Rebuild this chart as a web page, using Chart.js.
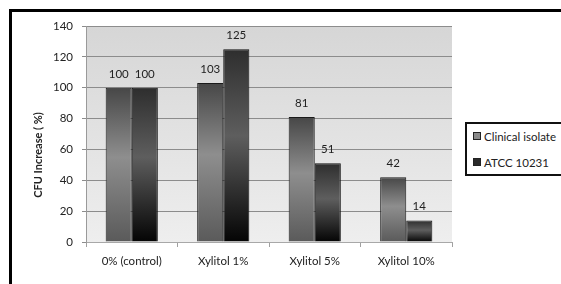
<!DOCTYPE html>
<html>
<head>
<meta charset="utf-8">
<script src="https://cdn.jsdelivr.net/npm/chart.js@4.4.1/dist/chart.umd.min.js"></script>
<style>
  body { margin: 0; background: #fff; overflow: hidden; }
  #wrap { position: relative; width: 561px; height: 284px; overflow: hidden; font-family: Lato, sans-serif; }
  #frameTop { position: absolute; left: 9px; top: 9px; width: 560px; height: 3px; background: #000; }
  #frameLeft { position: absolute; left: 9px; top: 9px; width: 3px; height: 280px; background: #000; }
  #legend {
    position: absolute; left: 465px; top: 122px; width: 110px; height: 50px;
    border: 2px solid #111; background: #fff; font-size: 11.5px; color: #222;
  }
  #legend .item { position: absolute; left: 6px; white-space: nowrap; line-height: 14px; }
  #legend .box { display: inline-block; width: 6px; height: 6px; border: 1px solid #222; margin-right: 3px; vertical-align: 1px; }
</style>
</head>
<body>
<div id="wrap">
  <canvas id="chart" width="561" height="284"></canvas>
  <div id="frameTop"></div>
  <div id="frameLeft"></div>
  <div id="legend"></div>
</div>
<script>
const categories = ["0% (control)", "Xylitol 1%", "Xylitol 5%", "Xylitol 10%"];
const clinicalIsolate = [100, 103, 81, 42];
const atcc10231 = [100, 125, 51, 14];
const seriesLabels = ["Clinical isolate", "ATCC 10231"];
const yTitle = "CFU Increase ( %)";

// vertical gradient spanning each bar, from its top to the zero line
function barGradient(stops, flat) {
  return (context) => {
    const chart = context.chart;
    if (!chart.chartArea || context.raw == null) return flat;
    const y = chart.scales.y;
    const top = y.getPixelForValue(context.raw);
    const bottom = y.getPixelForValue(0);
    if (!isFinite(top) || bottom - top < 1) return flat;
    const g = chart.ctx.createLinearGradient(0, top, 0, bottom);
    stops.forEach(([at, c]) => g.addColorStop(at, c));
    return g;
  };
}

const plotBackground = {
  id: "plotBackground",
  beforeDraw(chart) {
    const { ctx, chartArea: a } = chart;
    const g = ctx.createLinearGradient(0, a.top, 0, a.bottom);
    g.addColorStop(0, "#d6d6d6");
    g.addColorStop(1, "#eeeeee");
    ctx.save();
    ctx.fillStyle = g;
    ctx.fillRect(a.left, a.top, a.right - a.left, a.bottom - a.top);
    ctx.restore();
  }
};

const valueLabels = {
  id: "valueLabels",
  afterDatasetsDraw(chart) {
    const ctx = chart.ctx;
    ctx.save();
    ctx.font = "11.5px Lato";
    ctx.fillStyle = "#222";
    ctx.textAlign = "center";
    ctx.textBaseline = "alphabetic";
    chart.data.datasets.forEach((ds, i) => {
      chart.getDatasetMeta(i).data.forEach((el, j) => {
        ctx.fillText(String(ds.data[j]), el.x, el.y - 10);
      });
    });
    ctx.restore();
  }
};

const sideTitle = {
  id: "sideTitle",
  afterDraw(chart) {
    const ctx = chart.ctx;
    ctx.save();
    ctx.translate(38, 155);
    ctx.rotate(-Math.PI / 2);
    ctx.font = "bold 11px Lato";
    ctx.fillStyle = "#222";
    ctx.textAlign = "center";
    ctx.textBaseline = "middle";
    ctx.fillText(yTitle, 0, 0);
    ctx.restore();
  }
};

const clinicalStops = [[0, "#474747"], [0.45, "#8e8e8e"], [1, "#5a5a5a"]];
const atccStops = [[0, "#2e2e2e"], [0.45, "#5e5e5e"], [1, "#040404"]];

new Chart(document.getElementById("chart"), {
  type: "bar",
  data: {
    labels: categories,
    datasets: [
      {
        label: seriesLabels[0],
        data: clinicalIsolate,
        backgroundColor: barGradient(clinicalStops, "#777"),
        borderColor: "#1a1a1a",
        borderWidth: 1
      },
      {
        label: seriesLabels[1],
        data: atcc10231,
        backgroundColor: barGradient(atccStops, "#222"),
        borderColor: "#111",
        borderWidth: 1
      }
    ]
  },
  options: {
    responsive: false,
    animation: false,
    categoryPercentage: 0.57,
    barPercentage: 1.0,
    layout: { padding: { left: 0, right: 109, top: 26, bottom: 0 } },
    plugins: {
      legend: { display: false },
      tooltip: { enabled: false }
    },
    scales: {
      x: {
        grid: { display: true, drawOnChartArea: false, offset: true, tickLength: 5, color: "#a0a0a0" },
        border: { display: true, color: "#a8a8a8" },
        ticks: { color: "#222", font: { family: "Lato", size: 11.5 }, padding: 7, maxRotation: 0 },
        afterFit: (s) => { s.height = 42; }
      },
      y: {
        min: 0,
        max: 140,
        ticks: { stepSize: 20, color: "#222", font: { family: "Lato", size: 11.5 }, padding: 9 },
        grid: { color: "#8c8c8c", tickLength: 4, tickColor: "#8c8c8c" },
        border: { display: true, color: "#9a9a9a" },
        afterFit: (s) => { s.width = 86; }
      }
    }
  },
  plugins: [plotBackground, valueLabels, sideTitle]
});

// legend box, built from the same series names
const legend = document.getElementById("legend");
const swatches = ["#8a8a8a", "#2a2a2a"];
seriesLabels.forEach((name, i) => {
  const item = document.createElement("div");
  item.className = "item";
  item.style.top = (i === 0 ? 6 : 32) + "px";
  item.innerHTML = `<span class="box" style="background:${swatches[i]}"></span>${name}`;
  legend.appendChild(item);
});
</script>
</body>
</html>
